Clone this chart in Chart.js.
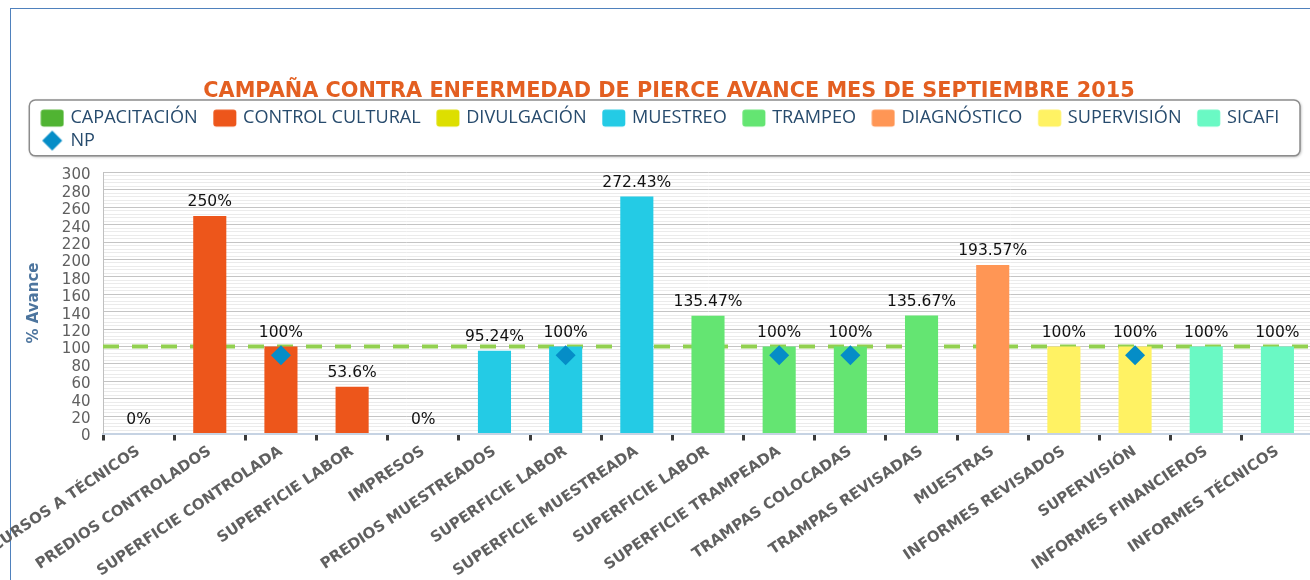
<!DOCTYPE html>
<html>
<head>
<meta charset="utf-8">
<script src="https://cdn.jsdelivr.net/npm/chart.js@4.4.1/dist/chart.umd.min.js"></script>
<style>
	html, body { margin: 0; padding: 0; background: #fff; overflow: hidden; }
	#frame { position: absolute; left: 10px; top: 8px; width: 1400px; height: 700px; border: 1px solid #4f81bd; }
	#wrap { position: absolute; left: 0; top: 0; width: 1313px; height: 580px; }
</style>
</head>
<body>
<div id="frame"></div>
<div id="wrap"><canvas id="myChart"></canvas></div>
<script>
const chartTitle = 'CAMPAÑA CONTRA ENFERMEDAD DE PIERCE AVANCE MES DE SEPTIEMBRE 2015';

const categories = ['CURSOS A TÉCNICOS', 'PREDIOS CONTROLADOS', 'SUPERFICIE CONTROLADA', 'SUPERFICIE LABOR',
	'IMPRESOS', 'PREDIOS MUESTREADOS', 'SUPERFICIE LABOR', 'SUPERFICIE MUESTREADA', 'SUPERFICIE LABOR',
	'SUPERFICIE TRAMPEADA', 'TRAMPAS COLOCADAS', 'TRAMPAS REVISADAS', 'MUESTRAS', 'INFORMES REVISADOS',
	'SUPERVISIÓN', 'INFORMES FINANCIEROS', 'INFORMES TÉCNICOS'];

// one array per activity group, null where the category belongs to another group
const capacitacion    = [0, null, null, null, null, null, null, null, null, null, null, null, null, null, null, null, null];
const controlCultural = [null, 250, 100, 53.6, null, null, null, null, null, null, null, null, null, null, null, null, null];
const divulgacion     = [null, null, null, null, 0, null, null, null, null, null, null, null, null, null, null, null, null];
const muestreo        = [null, null, null, null, null, 95.24, 100, 272.43, null, null, null, null, null, null, null, null, null];
const trampeo         = [null, null, null, null, null, null, null, null, 135.47, 100, 100, 135.67, null, null, null, null, null];
const diagnostico     = [null, null, null, null, null, null, null, null, null, null, null, null, 193.57, null, null, null, null];
const supervision     = [null, null, null, null, null, null, null, null, null, null, null, null, null, 100, 100, null, null];
const sicafi          = [null, null, null, null, null, null, null, null, null, null, null, null, null, null, null, 100, 100];
const npValues        = [null, null, 90, null, null, null, 90, null, null, 90, 90, null, null, null, 90, null, null];

const goalValue = 100;
const yTicksMax = 300;

const seriesNames = ['CAPACITACIÓN', 'CONTROL CULTURAL', 'DIVULGACIÓN', 'MUESTREO', 'TRAMPEO', 'DIAGNÓSTICO', 'SUPERVISIÓN', 'SICAFI'];
const seriesData = [capacitacion, controlCultural, divulgacion, muestreo, trampeo, diagnostico, supervision, sicafi];
const seriesColors = ['#50B432', '#ED561B', '#DDDF00', '#24CBE5', '#64E572', '#FF9655', '#FFF263', '#6AF9C4'];
const npColor = '#058DC7';
const goalColor = '#92D050';

// legend swatches, drawn off-centre so the gaps match the original legend
function make_swatch(color, diamond)
{
	let c = document.createElement('canvas');
	c.width = 38;
	c.height = 22;
	let g = c.getContext('2d');
	g.fillStyle = color;
	g.beginPath();
	if (diamond) {
		g.moveTo(25.8, 1);
		g.lineTo(35.8, 11);
		g.lineTo(25.8, 21);
		g.lineTo(15.8, 11);
		g.closePath();
	} else {
		g.roundRect(14.3, 2.5, 23, 17, 3);
	}
	g.fill();
	return c;
}

let swatches = seriesColors.map(c => make_swatch(c, false));
swatches.push(make_swatch(npColor, true));

let datasets = seriesNames.map((name, i) => ({
	type: 'bar',
	label: name,
	data: seriesData[i],
	backgroundColor: seriesColors[i],
	grouped: false,
	barPercentage: 0.465,
	categoryPercentage: 1,
	order: 1
}));

datasets.push({
	type: 'line',
	label: 'NP',
	data: npValues,
	showLine: false,
	pointStyle: 'rectRot',
	pointRadius: 10,
	pointHoverRadius: 10,
	pointBackgroundColor: npColor,
	pointBorderWidth: 0,
	order: 0
});

datasets.push({
	type: 'line',
	label: 'meta',
	xAxisID: 'xGoal',
	data: [{x: 0, y: goalValue}, {x: 1, y: goalValue}],
	borderColor: goalColor,
	borderWidth: 4,
	borderDash: [16, 13],
	pointRadius: 0,
	order: 10
});

const legendFrame = {
	id: 'legendFrame',
	beforeDraw(chart) {
		let lg = chart.legend;
		let ctx = chart.ctx;
		let x = lg.left + 4.3, y = lg.top - 4.6;
		let w = lg.right - 13 - x, h = lg.bottom - 3.8 - y;
		ctx.save();
		ctx.shadowColor = 'rgba(0,0,0,0.35)';
		ctx.shadowOffsetX = 1;
		ctx.shadowOffsetY = 1;
		ctx.shadowBlur = 3;
		ctx.fillStyle = '#fff';
		ctx.beginPath();
		ctx.roundRect(x, y, w, h, 6);
		ctx.fill();
		ctx.shadowColor = 'transparent';
		ctx.strokeStyle = '#8c8c8c';
		ctx.lineWidth = 1.5;
		ctx.stroke();
		ctx.restore();
	}
};

const barLabels = {
	id: 'barLabels',
	afterDatasetsDraw(chart) {
		let ctx = chart.ctx;
		ctx.save();
		ctx.font = '15.5px "DejaVu Sans"';
		ctx.fillStyle = '#111';
		ctx.textAlign = 'center';
		ctx.textBaseline = 'middle';
		chart.data.datasets.forEach((ds, i) => {
			if (ds.type !== 'bar') return;
			chart.getDatasetMeta(i).data.forEach((bar, j) => {
				let v = ds.data[j];
				if (v === null) return;
				ctx.fillText(v + '%', bar.x, bar.y - 14);
			});
		});
		ctx.restore();
	}
};

let chart = new Chart('myChart', {
	type: 'bar',
	data: {
		labels: categories,
		datasets: datasets
	},
	plugins: [legendFrame, barLabels],
	options: {
		responsive: true,
		maintainAspectRatio: false,
		animation: false,
		layout: {
			autoPadding: false,
			padding: {left: 25, right: 0, top: 0, bottom: 0}
		},
		scales: {
			x: {
				offset: true,
				grid: {
					display: true,
					drawOnChartArea: false,
					drawTicks: true,
					tickLength: 7,
					tickWidth: 3,
					tickColor: '#3a3a3a',
					offset: true
				},
				border: {color: '#c6d3e3', width: 2},
				ticks: {
					autoSkip: false,
					minRotation: 34,
					maxRotation: 34,
					padding: 2,
					color: '#606060',
					font: {family: 'DejaVu Sans', size: 15, weight: 'bold'}
				},
				afterFit(scale) {
					scale.height = 146.5;
					scale.paddingLeft = 0;
					scale.paddingRight = 0;
				}
			},
			xGoal: {
				type: 'linear',
				display: false,
				offset: false,
				min: 0,
				max: 1
			},
			y: {
				min: 0,
				max: yTicksMax,
				ticks: {
					stepSize: 4,
					autoSkip: false,
					maxTicksLimit: 100,
					padding: 12.5,
					labelOffset: 3,
					color: '#606060',
					font: {family: 'DejaVu Sans', size: 15},
					callback: v => (v % 20 === 0 ? String(v) : '')
				},
				grid: {
					drawTicks: false,
					color: c => (c.tick && c.tick.value % 20 === 0 ? '#c4c4c4' : '#ebebeb')
				},
				border: {color: '#c0c0c0'},
				title: {
					display: true,
					text: '% Avance',
					color: '#4d759e',
					padding: 0,
					font: {family: 'DejaVu Sans', size: 15, weight: 'bold'}
				},
				afterFit(scale) {
					scale.width = 78;
				}
			}
		},
		plugins: {
			title: {
				display: true,
				text: chartTitle,
				color: '#E35F21',
				font: {family: 'DejaVu Sans', size: 20.8, weight: 'bold'},
				padding: {top: 79.2, bottom: 0.5}
			},
			subtitle: {
				display: true,
				text: ' ',
				font: {size: 1},
				padding: {top: 11.65, bottom: 0},
				weight: 500
			},
			legend: {
				display: true,
				position: 'top',
				align: 'start',
				labels: {
					usePointStyle: true,
					pointStyleWidth: 32,
					padding: 4.4,
					color: '#274b6d',
					font: {family: 'Open Sans', size: 18.1},
					sort: (a, b) => a.datasetIndex - b.datasetIndex,
					generateLabels(chart) {
						let items = Chart.defaults.plugins.legend.labels.generateLabels(chart);
						return items.filter(it => it.datasetIndex < swatches.length).map(it => {
							it.pointStyle = swatches[it.datasetIndex];
							return it;
						});
					}
				}
			},
			tooltip: {
				enabled: false
			}
		}
	}
});
</script>
</body>
</html>
